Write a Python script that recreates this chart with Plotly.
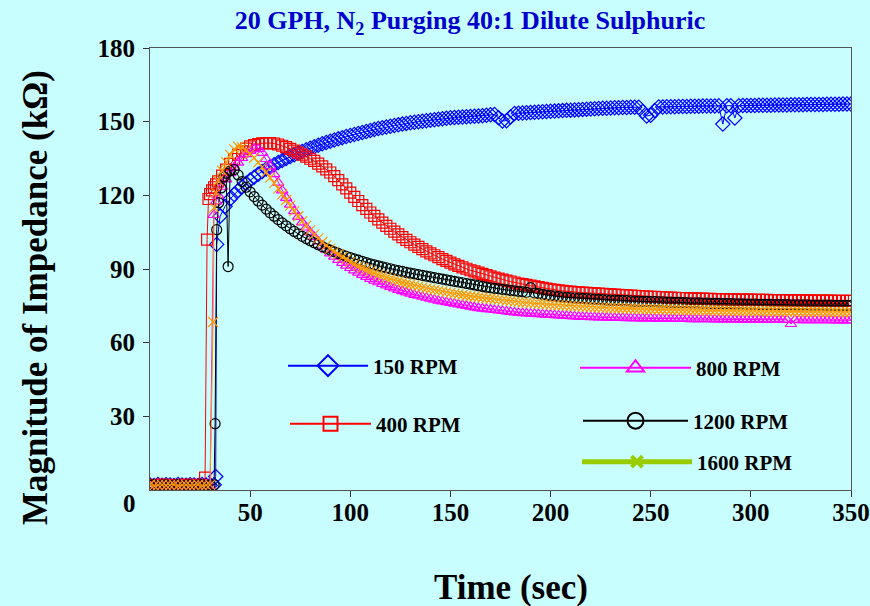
import plotly.graph_objects as go

# ---------------- data ----------------
# common sampling grid after the rise (seconds)
t_body = list(range(40, 351, 2))

# 150 RPM
blue_t0 = [0, 2, 4, 6, 8, 10, 12, 14, 16, 18, 20, 22, 24, 26, 28, 30, 32, 32.8, 33.3, 35, 37.5]
blue_z0 = [2.0, 1.8, 2.2, 1.9, 2.1, 2.0, 1.8, 2.2, 2.0, 1.9, 2.1, 2.0, 1.8, 2.2, 2.0, 1.9, 2.1, 5.5, 100.0, 111.5, 115.5]
blue_body = [
    118.5, 120.3, 122.0, 123.5, 124.9, 126.2, 127.4, 128.6, 129.7, 130.7,
    131.6, 132.5, 133.4, 134.2, 135.0, 135.8, 136.5, 137.2, 137.9, 138.6,
    139.2, 139.8, 140.4, 141.0, 141.5, 142.0, 142.5, 143.0, 143.5, 144.0,
    144.4, 144.8, 145.2, 145.6, 146.0, 146.4, 146.8, 147.2, 147.5, 147.8,
    148.1, 148.4, 148.7, 149.0, 149.3, 149.6, 149.8, 150.0, 150.2, 150.4,
    150.6, 150.8, 151.0, 151.2, 151.4, 151.6, 151.7, 151.8, 151.9, 152.0,
    152.1, 152.2, 152.3, 152.4, 152.6, 152.8, 152.9, 151.6, 150.3, 150.4,
    151.9, 153.3, 153.4, 153.5, 153.6, 153.7, 153.8, 153.9, 154.0, 154.1,
    154.2, 154.3, 154.4, 154.5, 154.6, 154.7, 154.8, 154.9, 155.0, 155.1,
    155.2, 155.3, 155.4, 155.5, 155.5, 155.6, 155.7, 155.7, 155.8, 155.8,
    155.9, 155.9, 155.9, 154.1, 152.3, 152.6, 154.5, 156.0, 156.0, 156.1,
    156.1, 156.1, 156.2, 156.2, 156.2, 156.3, 156.3, 156.3, 156.4, 156.4,
    156.4, 156.4, 156.5, 149.0, 156.5, 156.5, 151.5, 156.5, 156.6, 156.6,
    156.6, 156.6, 156.7, 156.7, 156.7, 156.7, 156.8, 156.8, 156.8, 156.8,
    156.9, 156.9, 156.9, 156.9, 157.0, 157.0, 157.0, 157.0, 157.0, 157.1,
    157.1, 157.1, 157.1, 157.2, 157.2, 157.2]

# 400 RPM
red_t0 = [0, 2, 4, 6, 8, 10, 12, 14, 16, 18, 20, 22, 24, 26, 27.5, 28.5, 29.2, 30, 31, 32, 33, 34, 36, 38]
red_z0 = [2.1, 1.9, 2.0, 2.2, 1.8, 2.0, 2.1, 1.9, 2.0, 2.2, 1.8, 2.0, 2.1, 1.9, 5.0, 102.0, 118.5, 120.5, 122.0, 123.3, 124.5, 125.7, 128.0, 130.5]
red_body = [
    132.8, 134.8, 136.5, 137.9, 139.0, 139.9, 140.5, 140.9, 141.2, 141.3,
    141.3, 141.1, 140.7, 140.2, 139.6, 138.9, 138.2, 137.4, 136.6, 135.8,
    134.9, 134.0, 132.9, 131.8, 130.6, 129.3, 127.8, 126.2, 124.5, 122.8,
    121.1, 119.4, 117.7, 116.0, 114.5, 113.0, 111.6, 110.2, 108.9, 107.6,
    106.4, 105.2, 104.1, 103.0, 101.9, 100.9, 99.9, 99.0, 98.1, 97.2,
    96.4, 95.6, 94.8, 94.0, 93.3, 92.6, 91.9, 91.3, 90.7, 90.1,
    89.5, 89.0, 88.5, 88.0, 87.5, 87.0, 86.5, 86.1, 85.7, 85.3,
    84.9, 84.5, 84.1, 83.8, 83.5, 83.2, 82.9, 82.6, 82.3, 82.0,
    81.7, 81.5, 81.3, 81.1, 80.9, 80.8, 80.6, 80.5, 80.4, 80.3,
    80.2, 80.1, 80.0, 79.9, 79.8, 79.7, 79.6, 79.5, 79.4, 79.3,
    79.2, 79.1, 79.0, 78.9, 78.8, 78.7, 78.7, 78.6, 78.5, 78.4,
    78.4, 78.3, 78.2, 78.2, 78.1, 78.0, 78.0, 77.9, 77.9, 77.8,
    77.8, 77.7, 77.7, 77.7, 77.6, 77.6, 77.6, 77.5, 77.5, 77.5,
    77.5, 77.4, 77.4, 77.4, 77.4, 77.3, 77.3, 77.3, 77.3, 77.3,
    77.2, 77.2, 77.2, 77.2, 77.2, 77.1, 77.1, 77.1, 77.1, 77.1,
    77.1, 77.0, 77.0, 77.0, 77.0, 77.0]

# 800 RPM
mag_t0 = [0, 2, 4, 6, 8, 10, 12, 14, 16, 18, 20, 22, 24, 26, 28, 30, 31.8, 33, 34, 36, 38]
mag_z0 = [1.9, 2.1, 2.0, 1.8, 2.2, 2.0, 1.9, 2.1, 2.0, 1.8, 2.2, 2.0, 1.9, 2.1, 2.0, 1.8, 112.0, 117.5, 120.0, 123.5, 126.5]
mag_body = [
    129.0, 131.3, 133.3, 135.2, 136.8, 138.1, 139.0, 138.8, 137.3, 134.8,
    131.8, 128.6, 125.2, 122.0, 119.0, 116.2, 113.6, 111.2, 109.0, 106.9,
    104.9, 103.0, 101.2, 99.5, 97.9, 96.4, 95.0, 93.7, 92.5, 91.4,
    90.4, 89.4, 88.5, 87.6, 86.8, 86.0, 85.3, 84.6, 83.9, 83.3,
    82.7, 82.1, 81.5, 81.0, 80.5, 80.0, 79.5, 79.1, 78.7, 78.3,
    77.9, 77.5, 77.1, 76.8, 76.5, 76.2, 75.9, 75.6, 75.3, 75.0,
    74.7, 74.4, 74.1, 73.9, 73.7, 73.5, 73.3, 73.1, 72.9, 72.7,
    72.5, 72.3, 72.1, 72.0, 71.9, 71.8, 71.7, 71.6, 71.5, 71.4,
    71.3, 71.2, 71.1, 71.0, 70.9, 70.8, 70.7, 70.6, 70.5, 70.5,
    70.4, 70.4, 70.3, 70.3, 70.2, 70.2, 70.1, 70.1, 70.1, 70.0,
    70.0, 70.0, 69.9, 69.9, 69.9, 69.9, 69.8, 69.8, 69.8, 69.8,
    69.7, 69.7, 69.7, 69.7, 69.7, 69.6, 69.6, 69.6, 69.6, 69.6,
    69.6, 69.5, 69.5, 69.5, 69.5, 69.5, 69.5, 69.4, 69.4, 69.4,
    69.4, 69.4, 69.4, 69.4, 69.3, 69.3, 69.3, 69.3, 69.3, 69.3,
    67.6, 69.3, 69.2, 69.2, 69.2, 69.2, 69.2, 69.2, 69.2, 69.2,
    69.2, 69.1, 69.1, 69.1, 69.1, 69.1]

# 1200 RPM
blk_t0 = [0, 2, 4, 6, 8, 10, 12, 14, 16, 18, 20, 22, 24, 26, 28, 30, 32, 32.5, 33.3, 34.3, 35.5, 37, 38, 39]
blk_z0 = [2.0, 2.2, 1.8, 2.0, 2.1, 1.9, 2.0, 2.2, 1.8, 2.0, 2.1, 1.9, 2.0, 2.2, 1.8, 2.0, 2.1, 27.0, 106.0, 117.0, 123.0, 127.5, 129.0, 91.0]
blk_body = [
    130.0, 130.5, 128.3, 125.6, 123.3, 121.4, 119.5, 117.7, 116.0, 114.4,
    112.9, 111.5, 110.1, 108.8, 107.6, 106.4, 105.3, 104.3, 103.3, 102.4,
    101.5, 100.7, 99.9, 99.1, 98.4, 97.7, 97.0, 96.4, 95.8, 95.2,
    94.6, 94.1, 93.6, 93.1, 92.6, 92.1, 91.7, 91.3, 90.9, 90.5,
    90.1, 89.7, 89.3, 89.0, 88.6, 88.3, 88.0, 87.7, 87.4, 87.1,
    86.8, 86.5, 86.2, 85.9, 85.6, 85.3, 85.0, 84.7, 84.4, 84.1,
    83.8, 83.5, 83.2, 82.9, 82.6, 82.3, 82.1, 81.9, 81.7, 81.5,
    81.3, 81.1, 80.9, 80.7, 80.5, 82.4, 80.2, 80.0, 79.7, 79.4,
    79.2, 79.0, 78.8, 78.6, 78.5, 78.3, 78.2, 78.1, 78.0, 77.9,
    77.8, 77.7, 77.6, 77.5, 77.4, 77.3, 77.3, 77.2, 77.1, 77.1,
    77.0, 76.9, 76.9, 76.8, 76.8, 76.7, 76.7, 76.6, 76.6, 76.5,
    76.5, 76.4, 76.4, 76.3, 76.3, 76.2, 76.2, 76.2, 76.1, 76.1,
    76.0, 76.0, 76.0, 75.9, 75.9, 75.9, 75.8, 75.8, 75.8, 75.7,
    75.7, 75.7, 75.6, 75.6, 75.6, 75.6, 75.5, 75.5, 75.5, 75.5,
    75.4, 75.4, 75.4, 75.4, 75.4, 75.3, 75.3, 75.3, 75.3, 75.3,
    75.3, 75.2, 75.2, 75.2, 75.2, 75.2]

# 1600 RPM
org_t0 = [0, 2, 4, 6, 8, 10, 12, 14, 16, 18, 20, 22, 24, 26, 28, 30, 31.5, 32, 33, 34, 36, 38]
org_z0 = [2.2, 1.8, 2.0, 2.1, 1.9, 2.0, 2.2, 1.8, 2.0, 2.1, 1.9, 2.0, 2.2, 1.8, 2.0, 2.1, 68.4, 115.0, 121.0, 126.0, 130.0, 133.5]
org_body = [
    136.5, 138.8, 139.8, 139.5, 138.3, 137.0, 135.3, 133.4, 131.5, 129.4,
    127.2, 125.0, 122.7, 120.4, 118.1, 115.8, 113.6, 111.5, 109.5, 107.6,
    105.8, 104.1, 102.5, 101.0, 99.6, 98.3, 97.1, 96.0, 94.9, 93.9,
    92.9, 92.0, 91.2, 90.4, 89.7, 89.0, 88.3, 87.7, 87.1, 86.5,
    86.0, 85.5, 85.0, 84.5, 84.1, 83.7, 83.3, 82.9, 82.5, 82.1,
    81.8, 81.5, 81.2, 80.9, 80.6, 80.3, 80.0, 79.7, 79.4, 79.1,
    78.9, 78.7, 78.5, 78.3, 78.1, 77.9, 77.7, 77.5, 77.3, 77.1,
    76.9, 76.7, 76.5, 76.4, 76.3, 76.2, 76.0, 75.9, 75.8, 75.6,
    75.5, 75.4, 75.3, 75.2, 75.1, 75.0, 74.9, 74.8, 74.7, 74.6,
    74.5, 74.4, 74.4, 74.3, 74.2, 74.2, 74.1, 74.0, 74.0, 73.9,
    73.9, 73.8, 73.8, 73.7, 73.7, 73.6, 73.6, 73.5, 73.5, 73.5,
    73.4, 73.4, 73.4, 73.3, 73.3, 73.3, 73.2, 73.2, 73.2, 73.1,
    73.1, 73.1, 73.1, 73.0, 73.0, 73.0, 73.0, 72.9, 72.9, 72.9,
    72.9, 72.9, 72.8, 72.8, 72.8, 72.8, 72.8, 72.7, 72.7, 72.7,
    72.7, 72.7, 72.7, 72.6, 72.6, 72.6, 72.6, 72.6, 72.6, 72.5,
    72.5, 72.5, 72.5, 72.5, 72.5, 72.5]

series_names = ["150 RPM", "400 RPM", "800 RPM", "1200 RPM", "1600 RPM"]
x_ticks = [50, 100, 150, 200, 250, 300, 350]
y_ticks = [30, 60, 90, 120, 150, 180]

# ---------------- styling ----------------
BG = "#C8FEFE"
FONT = "Liberation Serif, Times New Roman, serif"

specs = [
    # name, t0, z0, body, color, symbol, size, legend color, legend symbol, legend size, legend lw, legend mlw
    (series_names[0], blue_t0, blue_z0, blue_body, "#0000FF", "diamond-open", 11, "#0000FF", "diamond-open", 16, 2, 2),
    (series_names[1], red_t0, red_z0, red_body, "#FF0000", "square-open", 11, "#FF0000", "square-open", 14, 2, 2),
    (series_names[2], mag_t0, mag_z0, mag_body, "#FF00FF", "triangle-up-open", 10, "#FF00FF", "triangle-up-open", 15, 2, 2),
    (series_names[3], blk_t0, blk_z0, blk_body, "#000000", "circle-open", 10, "#000000", "circle-open", 16, 2, 2),
    (series_names[4], org_t0, org_z0, org_body, "#FF9900", "x-thin-open", 10, "#99CC00", "x-thin-open", 11, 5, 4),
]

fig = go.Figure()

for name, t0, z0, body, col, sym, sz, lcol, lsym, lsz, llw, lmlw in specs:
    xs = list(t0) + t_body[:len(body)]
    ys = list(z0) + list(body)
    fig.add_trace(go.Scatter(
        x=xs, y=ys, mode="lines+markers", name=name, showlegend=False,
        line=dict(color=col, width=1),
        marker=dict(symbol=sym, size=sz, color=col, line=dict(color=col, width=1.2)),
    ))

legend_ids = ["legend", "legend2", "legend3", "legend4", "legend5"]
for (name, t0, z0, body, col, sym, sz, lcol, lsym, lsz, llw, lmlw), lid in zip(specs, legend_ids):
    fig.add_trace(go.Scatter(
        x=[None], y=[None], mode="lines+markers", name=name, legend=lid,
        line=dict(color=lcol, width=llw),
        marker=dict(symbol=lsym, size=lsz, color=lcol, line=dict(color=lcol, width=lmlw)),
    ))

L, R, T, B = 150, 19, 48, 116
W, H = 870, 606
pw, ph = W - L - R, H - T - B


def px2x(px):
    return (px - L) / pw


def py2y(py):
    return (H - B - py) / ph


legend_common = dict(
    bgcolor="rgba(0,0,0,0)", borderwidth=0,
    font=dict(family=FONT, size=21, color="black", weight="bold"),
    xanchor="left", yanchor="middle",
)
# (left px, centre y px, item width)
legend_pos = [
    (283, 366, 80),
    (285, 424, 81),
    (575, 368, 111),
    (578, 421, 105),
    (577, 462, 110),
]
for lid, (lx, ly, iw) in zip(legend_ids, legend_pos):
    fig.update_layout({lid: dict(legend_common, x=px2x(lx), y=py2y(ly), itemwidth=iw)})

axis_font = dict(family=FONT, size=25, color="black", weight="bold")
title_font = dict(family=FONT, size=35, color="black", weight="bold")
fig.update_layout(
    width=W, height=H, autosize=False,
    paper_bgcolor=BG, plot_bgcolor=BG,
    margin=dict(l=L, r=R, t=T, b=B, pad=0),
    font=dict(family=FONT, color="black"),
    title=dict(
        text="20 GPH, N<sub>2</sub> Purging 40:1 Dilute Sulphuric",
        x=470 / W, xanchor="center", xref="container",
        y=1 - 20 / H, yanchor="middle", yref="container",
        font=dict(family=FONT, size=26, color="#0000CC", weight="bold"),
    ),
    xaxis=dict(
        range=[0, 350], tickvals=x_ticks, ticktext=[str(v) for v in x_ticks],
        ticks="outside", ticklen=6, tickcolor="#333", tickwidth=1,
        ticklabelstandoff=-6,
        showline=True, linecolor="#555", linewidth=1, mirror=True,
        showgrid=False, zeroline=False, automargin=False,
        tickfont=axis_font,
    ),
    yaxis=dict(
        range=[0, 180], tickvals=y_ticks, ticktext=[str(v) for v in y_ticks],
        ticks="outside", ticklen=6, tickcolor="#333", tickwidth=1,
        ticklabelstandoff=3,
        showline=True, linecolor="#555", linewidth=1, mirror=True,
        showgrid=False, zeroline=False, automargin=False,
        tickfont=axis_font,
    ),
    annotations=[
        dict(text="0", x=0, y=0, xref="paper", yref="paper", showarrow=False,
             xanchor="center", yanchor="middle", xshift=-21, yshift=-13,
             font=axis_font),
        dict(text="Time (sec)", x=px2x(511), y=py2y(587), xref="paper", yref="paper",
             showarrow=False, xanchor="center", yanchor="middle", font=title_font),
        dict(text="Magnitude of Impedance (kΩ)", x=0, y=py2y(298), xref="paper", yref="paper",
             xshift=35 - L, showarrow=False, xanchor="center", yanchor="middle",
             textangle=-90, font=title_font),
    ],
)

fig.write_html("out.html")
